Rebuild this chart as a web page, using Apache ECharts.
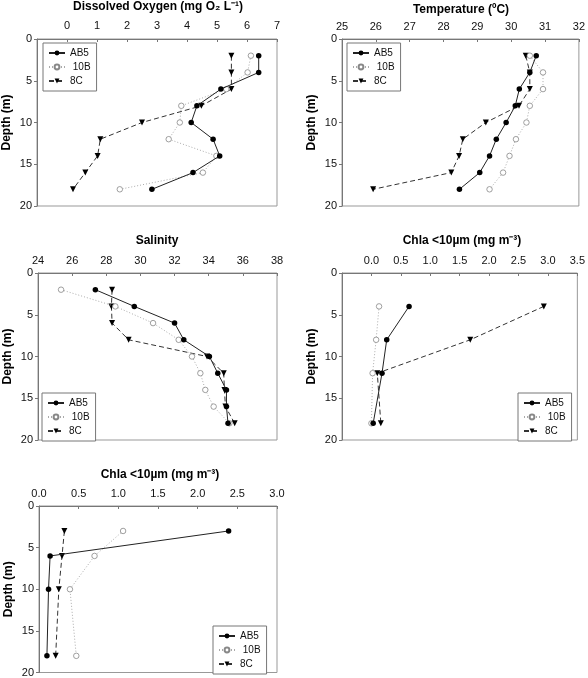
<!DOCTYPE html>
<html><head><meta charset="utf-8">
<script src="https://cdn.jsdelivr.net/npm/echarts@6/dist/echarts.min.js"></script>
<style>html,body{margin:0;padding:0;background:#fff}#c{width:588px;height:678px}</style>
</head><body><div id="c"></div>
<script>
// ---- data ----
const stations = ['AB5', '10B', '8C'];
// Panel 1: Dissolved oxygen
const doDepth = [2, 4, 6, 8, 10, 12, 14, 16, 18];
const doAB5 = [6.39, 6.39, 5.13, 4.33, 4.14, 4.87, 5.09, 4.20, 2.83];
const do10B = [6.13, 6.02, 5.31, 3.81, 3.76, 3.39, 4.98, 4.53, 1.76];
const do8C  = [5.48, 5.48, 5.48, 4.48, 2.50, 1.11, 1.02, 0.61, 0.20];
// Panel 2: Temperature
const tDepth = [2, 4, 6, 8, 10, 12, 14, 16, 18];
const tAB5 = [30.74, 30.55, 30.24, 30.12, 29.85, 29.56, 29.36, 29.07, 28.47];
const t10B = [30.55, 30.94, 30.94, 30.55, 30.45, 30.14, 29.95, 29.76, 29.36];
const t8C  = [30.43, 30.55, 30.55, 30.23, 29.25, 28.57, 28.46, 28.23, 25.92];
// Panel 3: Salinity
const sDepth = [2, 4, 6, 8, 10, 12, 14, 16, 18];
const sAB5 = [27.36, 29.64, 32.00, 32.54, 34.04, 34.53, 35.04, 35.04, 35.13];
const s10B = [25.35, 28.53, 30.74, 32.24, 33.02, 33.51, 33.80, 34.29, 35.21];
const s8C  = [28.34, 28.30, 28.34, 29.31, 33.90, 34.88, 34.92, 34.98, 35.52];
// Panel 4: Chla <10um (first)
const c1Depth = [4, 8, 12, 18];
const c1AB5 = [0.64, 0.26, 0.18, 0.03];
const c110B = [0.13, 0.08, 0.02, 0.00];
const c18C  = [2.93, 1.68, 0.10, 0.16];
// Panel 5: Chla <10um (second)
const c2Depth = [3, 6, 10, 18];
const c2AB5 = [2.39, 0.14, 0.12, 0.10];
const c210B = [1.06, 0.70, 0.39, 0.47];
const c28C  = [0.32, 0.29, 0.25, 0.21];

const titles = ['Dissolved Oxygen (mg O\u2082 L\u207B\u00B9)', 'Temperature (\u00BAC)', 'Salinity', 'Chla <10\u00B5m (mg m\u207B\u00B3)', 'Chla <10\u00B5m (mg m\u207B\u00B3)'];
const depthTicks = [0, 20, 5];

// ---- layout ----
const FONT = 'Liberation Sans, Arial, sans-serif';
const grids = [
  {left: 37, top: 39, width: 240, height: 167},
  {left: 342, top: 39, width: 238, height: 167},
  {left: 38, top: 273, width: 239, height: 167},
  {left: 342, top: 273, width: 238, height: 167},
  {left: 39, top: 506, width: 238, height: 168}
];
const xCfg = [
  {min: -1, max: 7, interval: 1, dec: 0, hide: -1},
  {min: 25, max: 32, interval: 1, dec: 0},
  {min: 24, max: 38, interval: 2, dec: 0},
  {min: -0.5, max: 3.5, interval: 0.5, dec: 1, hide: -0.5},
  {min: 0, max: 3, interval: 0.5, dec: 1}
];
const titlePos = [[158, 7], [461, 10], [157, 241], [462, 241], [160, 475]];
const legendPos = [
  {left: 43, top: 43}, {left: 347, top: 43}, {left: 42, top: 393}, {left: 518, top: 393}, {left: 213, top: 626}
];
const panels = [
  [doDepth, doAB5, do10B, do8C],
  [tDepth, tAB5, t10B, t8C],
  [sDepth, sAB5, s10B, s8C],
  [c1Depth, c1AB5, c110B, c18C],
  [c2Depth, c2AB5, c210B, c28C]
];

const styles = [
  {symbol: 'circle', symbolSize: 5.5, itemStyle: {color: '#000', borderColor: '#000', borderWidth: 0}, lineStyle: {color: '#222', width: 1, type: 'solid'}},
  {symbol: 'circle', symbolSize: 5.5, itemStyle: {color: '#fff', borderColor: '#888', borderWidth: 0.8}, lineStyle: {color: '#aaa', width: 1, type: [1, 2]}},
  {symbol: 'triangle', symbolRotate: 180, symbolSize: 6, itemStyle: {color: '#000', borderWidth: 0}, lineStyle: {color: '#333', width: 1, type: [5, 3]}}
];

const xAxis = [], yAxis = [], series = [], legend = [], graphic = [];
grids.forEach((g, i) => {
  const c = xCfg[i];
  xAxis.push({
    type: 'value', gridIndex: i, position: 'top', min: c.min, max: c.max, interval: c.interval,
    axisLine: {show: true, onZero: false, lineStyle: {color: '#777', width: 1}},
    axisTick: {show: true, inside: true, length: 3, lineStyle: {color: '#777'}},
    axisLabel: {margin: i === 0 ? 8 : 7, fontFamily: FONT, fontSize: 11, color: '#111', showMinLabel: true, showMaxLabel: true,
      formatter: v => (c.hide !== undefined && Math.abs(v - c.hide) < 1e-9) ? '' : v.toFixed(c.dec)},
    splitLine: {show: false}
  });
  yAxis.push({
    type: 'value', gridIndex: i, inverse: true, min: depthTicks[0], max: depthTicks[1], interval: depthTicks[2],
    name: 'Depth (m)', nameLocation: 'middle', nameGap: 24, nameRotate: 90,
    nameTextStyle: {fontFamily: FONT, fontSize: 12, fontWeight: 'bold', color: '#000'},
    axisLine: {show: true, onZero: false, lineStyle: {color: '#777', width: 1}},
    axisTick: {show: true, inside: false, length: 3, lineStyle: {color: '#777'}},
    axisLabel: {margin: 5, fontFamily: FONT, fontSize: 11, color: '#111'},
    splitLine: {show: false}
  });
  const p = panels[i];
  for (let s = 0; s < 3; s++) {
    const vals = p[s + 1];
    series.push(Object.assign({
      type: 'line', name: stations[s], xAxisIndex: i, yAxisIndex: i,
      data: vals.map((v, k) => [v, p[0][k]]),
      showAllSymbol: true, animation: false, silent: true, z: 3 - s
    }, JSON.parse(JSON.stringify(styles[s])), {symbolRotate: styles[s].symbolRotate || 0}));
  }
  legend.push(Object.assign({
    data: stations, orient: 'vertical', itemWidth: 16, itemHeight: 6, itemGap: 4,
    backgroundColor: '#fff', borderColor: '#777', borderWidth: 1, borderRadius: 0, padding: [5, 6, 5, 5],
    textStyle: {fontFamily: FONT, fontSize: 10, color: '#111'},
    formatter: n => n === '10B' ? ' 10B' : n,
    selectedMode: false
  }, legendPos[i]));
  graphic.push({type: 'text', x: titlePos[i][0], y: titlePos[i][1],
    style: {text: titles[i], font: 'bold 12px ' + FONT, fill: '#000', textAlign: 'center', textVerticalAlign: 'middle'}});
});

const chart = echarts.init(document.getElementById('c'), null, {renderer: 'canvas'});
chart.setOption({
  animation: false,
  grid: grids.map(g => Object.assign({show: true, borderColor: '#999', borderWidth: 1, backgroundColor: 'transparent'}, g)),
  xAxis, yAxis, series, legend, graphic
});
</script></body></html>
